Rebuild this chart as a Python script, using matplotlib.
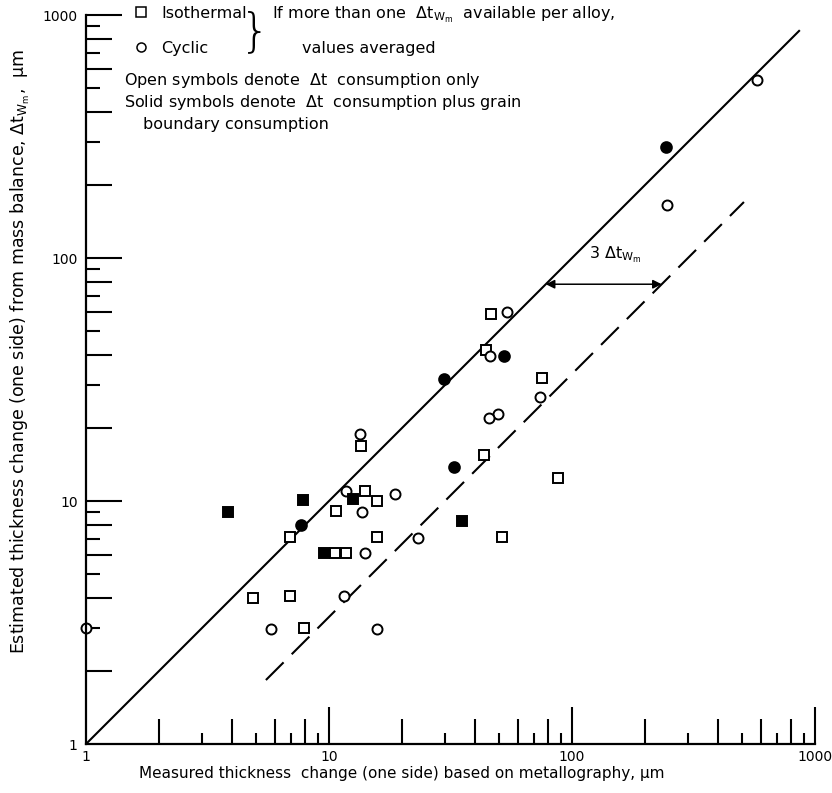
import numpy as np
import matplotlib
matplotlib.use('Agg')
import matplotlib.pyplot as plt
from matplotlib import ticker
from matplotlib.lines import Line2D

plt.rcParams['font.family'] = ['DejaVu Sans']
plt.rcParams['mathtext.fontset'] = 'dejavusans'

# open squares: isothermal, delta t consumption only
iso_open_x = [46.6, 44.4, 75.4, 13.5, 43.6, 87.8, 14.0, 15.8, 10.7, 6.9, 15.8, 51.5, 10.6, 11.8, 4.85, 6.9, 7.9]
iso_open_y = [58.7, 41.8, 32.0, 16.9, 15.4, 12.4, 11.0, 10.0, 9.1, 7.1, 7.1, 7.1, 6.1, 6.1, 4.0, 4.05, 3.0]
# open circles: cyclic, delta t consumption only
cyc_open_x = [54.0, 46.1, 73.5, 49.5, 45.4, 13.4, 11.7, 18.7, 13.7, 23.3, 14.0, 11.5, 5.75, 15.7, 1.0, 247, 576]
cyc_open_y = [59.8, 39.5, 26.9, 22.8, 22.0, 18.8, 11.0, 10.7, 9.0, 7.05, 6.1, 4.05, 2.97, 2.97, 3.0, 165, 540]
# solid symbols: plus grain boundary consumption
cyc_solid_x = [52.7, 29.6, 32.8, 7.7, 244]
cyc_solid_y = [39.5, 31.7, 13.8, 8.0, 287]
iso_solid_x = [3.83, 7.8, 12.6, 35.2, 9.5]
iso_solid_y = [9.0, 10.1, 10.2, 8.3, 6.1]

# reference lines: 1:1 and 1:3
line_x = [1.0, 860.0]
dash_x = [5.5, 510.0]
factor = 3.0
arrow_y = 78.0

dtw = r'$\Delta\mathrm{t}_{\mathrm{W}_\mathrm{m}}$'

W, H = 832, 793
fig = plt.figure(figsize=(W / 100, H / 100), dpi=100)
ax = fig.add_axes([86 / W, 1 - 744 / H, 729 / W, 729 / H])

def fpos(px, py):
    return px / W, 1 - py / H

ax.plot(line_x, line_x, color='k', lw=1.5)
ax.plot(dash_x, np.array(dash_x) / factor, color='k', lw=1.5, dashes=(12, 5.5))

ms = 7.2
ax.plot(iso_open_x, iso_open_y, 's', ms=ms, mfc='white', mec='k', mew=1.4, clip_on=False)
ax.plot(cyc_open_x, cyc_open_y, 'o', ms=ms, mfc='white', mec='k', mew=1.4, clip_on=False)
ax.plot(iso_solid_x, iso_solid_y, 's', ms=ms, mfc='k', mec='k', mew=1.4, clip_on=False)
ax.plot(cyc_solid_x, cyc_solid_y, 'o', ms=ms + 0.5, mfc='k', mec='k', mew=1.4, clip_on=False)

ax.annotate('', xy=(arrow_y, arrow_y), xytext=(arrow_y * factor, arrow_y),
            arrowprops=dict(arrowstyle='<|-|>', color='k', lw=1.1, mutation_scale=13,
                            shrinkA=0, shrinkB=0))
ax.text(118, 103, '3 ' + dtw, fontsize=11.5, ha='left', va='center')

ax.set_xscale('log')
ax.set_yscale('log')
ax.set_xlim(1, 1000)
ax.set_ylim(1, 1000)
for s in ['top', 'right']:
    ax.spines[s].set_visible(False)
for s in ['left', 'bottom']:
    ax.spines[s].set_linewidth(1.6)

ax.tick_params(which='both', direction='in', width=1.5, color='k', labelsize=10)
ax.tick_params(axis='x', pad=4)
ax.tick_params(axis='y', pad=6)

def set_ticks(axis, major_len, long_len, short_len):
    locs = [dec * k for dec in [1, 10, 100] for k in range(1, 10)] + [1000]
    axis.set_major_locator(ticker.FixedLocator(locs))
    axis.set_minor_locator(ticker.NullLocator())
    axis.set_major_formatter(ticker.FuncFormatter(
        lambda v, p: '%d' % round(v) if round(v) in (1, 10, 100, 1000) else ''))
    ticks = axis.get_major_ticks(len(locs))
    for loc, t in zip(locs, ticks):
        lead = round(loc / 10 ** np.floor(np.log10(loc) + 1e-9))
        if loc == 1:
            size = 0
        elif lead == 1:
            size = major_len
        elif lead % 2 == 0:
            size = long_len
        else:
            size = short_len
        t.tick1line.set_markersize(size)

set_ticks(ax.xaxis, 27, 18, 8)
set_ticks(ax.yaxis, 26, 19, 10)

ax.set_xlabel('Measured thickness  change (one side) based on metallography, μm', fontsize=11)
ax.xaxis.set_label_coords((402 - 86) / 729, (744 - 766) / 729)
ax.set_ylabel('Estimated thickness change (one side) from mass balance, ' + dtw + ',  μm',
              fontsize=12.5)
ax.yaxis.set_label_coords((32 - 86) / 729, (744 - 351) / 729)

# legend block
fs = 11.5
handles = [Line2D([], [], marker='s', ls='none', ms=6.5, mfc='white', mec='k', mew=1.1),
           Line2D([], [], marker='o', ls='none', ms=6.5, mfc='white', mec='k', mew=1.1)]
fig.legend(handles, ['Isothermal', 'Cyclic'], loc='upper left', bbox_to_anchor=fpos(135, 6),
           frameon=False, fontsize=fs, handlelength=0.75, handletextpad=0.9,
           labelspacing=1.25, borderpad=0, borderaxespad=0)
fig.text(*fpos(270, 32), '}', fontsize=34, va='center', ha='right', fontweight='light')
fig.text(*fpos(272, 15), 'If more than one  ' + dtw + '  available per alloy,',
         fontsize=fs, va='center')
fig.text(*fpos(302, 48), 'values averaged', fontsize=fs, va='center')
fig.text(*fpos(124, 80), r'Open symbols denote  $\Delta\mathrm{t}$  consumption only', fontsize=fs,
         va='center')
fig.text(*fpos(124, 103), r'Solid symbols denote  $\Delta\mathrm{t}$  consumption plus grain',
         fontsize=fs, va='center')
fig.text(*fpos(143, 125), 'boundary consumption', fontsize=fs, va='center')

fig.savefig('out.png', dpi=100)
